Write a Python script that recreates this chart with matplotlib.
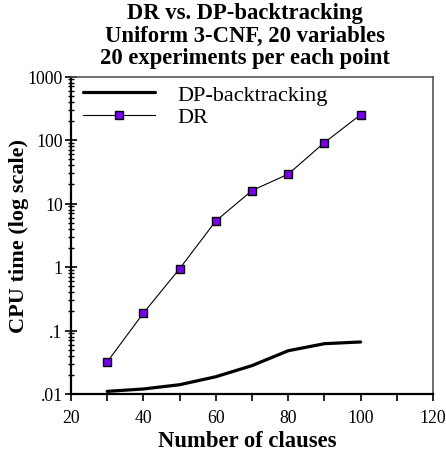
import matplotlib
matplotlib.use("Agg")
import matplotlib.pyplot as plt
from matplotlib.ticker import FixedLocator, FixedFormatter, LogLocator, MultipleLocator, NullFormatter

clauses = [30, 40, 50, 60, 70, 80, 90, 100]
dp_backtracking = [0.011, 0.012, 0.014, 0.0187, 0.028, 0.048, 0.062, 0.066]
dr = [0.032, 0.188, 0.94, 5.3, 16.0, 29.0, 91.0, 250.0]
y_ticks = [0.01, 0.1, 1, 10, 100, 1000]
y_tick_labels = [".01", ".1", "1", "10", "100", "1000"]
x_ticks = [20, 40, 60, 80, 100, 120]

plt.rcParams['font.family'] = ['Liberation Serif', 'DejaVu Serif']

fig = plt.figure(figsize=(4.46, 4.56), dpi=100)
ax = fig.add_axes([71/446, 1-395/456, (433-71)/446, (395-77.5)/456])

ax.plot(clauses, dp_backtracking, color='black', lw=2.3, label='DP-backtracking',
        solid_joinstyle='round', solid_capstyle='round')
ax.plot(clauses, dr, color='black', lw=0.8, marker='s', markersize=5.5,
        markerfacecolor='#7a00f0', markeredgecolor='black', markeredgewidth=1.0, label='DR')

ax.set_yscale('log')
ax.set_ylim(0.01, 1000)
ax.set_xlim(20, 120)
ax.yaxis.set_major_locator(FixedLocator(y_ticks))
ax.yaxis.set_major_formatter(FixedFormatter(y_tick_labels))
ax.yaxis.set_minor_locator(LogLocator(base=10, subs=range(2, 10)))
ax.yaxis.set_minor_formatter(NullFormatter())
ax.xaxis.set_major_locator(FixedLocator(x_ticks))
ax.xaxis.set_minor_locator(MultipleLocator(10))

ax.tick_params(axis='y', which='major', direction='inout', length=8, width=1.2, labelsize=12.8, pad=2)
ax.tick_params(axis='y', which='minor', direction='inout', length=5, width=1.0)
ax.tick_params(axis='x', which='both', direction='out', length=5, width=1.2, labelsize=12.8, pad=6)

for s in ['left', 'bottom']:
    ax.spines[s].set_linewidth(1.6)
    ax.spines[s].set_color('black')
for s in ['top', 'right']:
    ax.spines[s].set_linewidth(1.2)
    ax.spines[s].set_color('#555555')

ax.set_xlabel('Number of clauses', fontsize=16.3, fontweight='bold')
ax.xaxis.set_label_coords(0.486, -0.113)
ax.set_ylabel('CPU time (log scale)', fontsize=16, fontweight='bold')
ax.yaxis.set_label_coords(-0.143, 0.5)
ax.yaxis.label.set_va('center')

fig.text(245/446, 1-3/456, 'DR vs. DP-backtracking\nUniform 3-CNF, 20 variables\n20 experiments per each point',
         ha='center', va='top', fontsize=16.3, fontweight='bold', linespacing=1.1)

leg = ax.legend(loc='upper left', frameon=False, fontsize=16, handlelength=3.24,
                numpoints=1, bbox_to_anchor=(0.022, 0.99), borderaxespad=0.0, borderpad=0.2,
                labelspacing=0.1, handletextpad=1.0)

fig.savefig('out.png', dpi=100)
